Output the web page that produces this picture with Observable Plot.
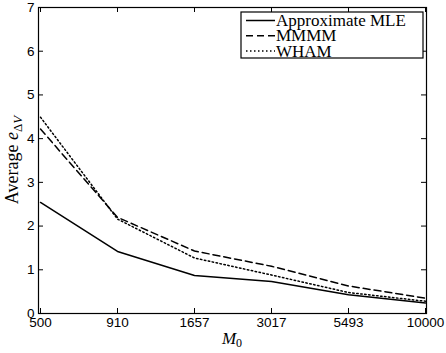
<!DOCTYPE html>
<html>
<head>
<meta charset="utf-8">
<script src="https://cdn.jsdelivr.net/npm/d3@7"></script>
<script src="https://cdn.jsdelivr.net/npm/@observablehq/plot@0.6"></script>
<style>
  html, body { margin: 0; padding: 0; background: #fff; }
</style>
</head>
<body>
<div id="chart"></div>
<script>
const m0 = [500, 910, 1657, 3017, 5493, 10000];
const mle = [2.54, 1.42, 0.87, 0.73, 0.43, 0.24];
const mmmm = [4.22, 2.20, 1.43, 1.08, 0.63, 0.35];
const wham = [4.49, 2.16, 1.27, 0.88, 0.48, 0.28];
const yTicks = [0, 1, 2, 3, 4, 5, 6, 7];
const seriesNames = ["Approximate MLE", "MMMM", "WHAM"];
const dashes = [null, "7,4", "1.5,2.5"];

const W = 446, H = 353;
const mL = 38, mR = 20, mT = 7, mB = 40;
const fw = W - mL - mR, fh = H - mT - mB;
const tk = 5;

const mk = vals => m0.map((x, i) => ({x, y: vals[i]}));
const series = [mle, mmmm, wham];

const plot = Plot.plot({
  width: W, height: H,
  marginLeft: mL, marginRight: mR, marginTop: mT, marginBottom: mB,
  style: {fontFamily: "'Liberation Sans', Arial, sans-serif", fontSize: "13px", color: "#000", background: "#fff"},
  x: {type: "point", domain: m0, padding: 0},
  y: {domain: [0, 7]},
  marks: [
    Plot.axisX(m0, {tickSize: 0, tickPadding: 4, tickFormat: d => String(d), label: null, fontSize: 13.5}),
    Plot.axisY(yTicks, {tickSize: 0, tickPadding: 4, label: null, fontSize: 13.5}),
    Plot.tickX(m0, {x: d => d, stroke: "#000", insetTop: fh - tk}),
    Plot.tickX(m0, {x: d => d, stroke: "#000", insetBottom: fh - tk}),
    Plot.tickY(yTicks, {y: d => d, stroke: "#000", insetRight: fw - tk}),
    Plot.tickY(yTicks, {y: d => d, stroke: "#000", insetLeft: fw - tk}),
    ...series.map((s, i) => Plot.line(mk(s), {x: "x", y: "y", stroke: "#000", strokeWidth: 1.5, strokeDasharray: dashes[i]})),
    Plot.frame({stroke: "#000", strokeWidth: 1.2})
  ]
});

document.getElementById("chart").appendChild(plot);

const svg = d3.select(plot);
const serif = "'Liberation Serif', 'DejaVu Serif', serif";

// Y label
const yl = svg.append("text")
  .attr("transform", `translate(18,${mT + fh / 2}) rotate(-90)`)
  .attr("text-anchor", "middle")
  .attr("font-family", serif)
  .attr("font-size", 18)
  .attr("fill", "#000");
yl.append("tspan").text("Average ");
yl.append("tspan").attr("font-style", "italic").text("e");
yl.append("tspan").attr("font-size", 13).attr("dy", 4).text("Δ");
yl.append("tspan").attr("font-size", 13).attr("font-style", "italic").text("V");

// X label
const xl = svg.append("text")
  .attr("x", mL + fw / 2)
  .attr("y", 344)
  .attr("text-anchor", "middle")
  .attr("font-family", serif)
  .attr("font-size", 17)
  .attr("fill", "#000");
xl.append("tspan").attr("font-style", "italic").text("M");
xl.append("tspan").attr("font-size", 12).attr("dy", 3).text("0");

// Legend
const lg = svg.append("g").attr("transform", "translate(241,12)");
lg.append("rect").attr("width", 182).attr("height", 46)
  .attr("fill", "#fff").attr("stroke", "#000").attr("stroke-width", 1.2);
seriesNames.forEach((name, i) => {
  const cy = 8.5 + i * 15.3;
  lg.append("line").attr("x1", 5).attr("x2", 34).attr("y1", cy).attr("y2", cy)
    .attr("stroke", "#000").attr("stroke-width", 1.5)
    .attr("stroke-dasharray", dashes[i]);
  lg.append("text").attr("x", 35).attr("y", cy + 5.5)
    .attr("text-anchor", "start")
    .attr("font-family", serif).attr("font-size", 17).attr("fill", "#000")
    .text(name);
});
</script>
</body>
</html>
